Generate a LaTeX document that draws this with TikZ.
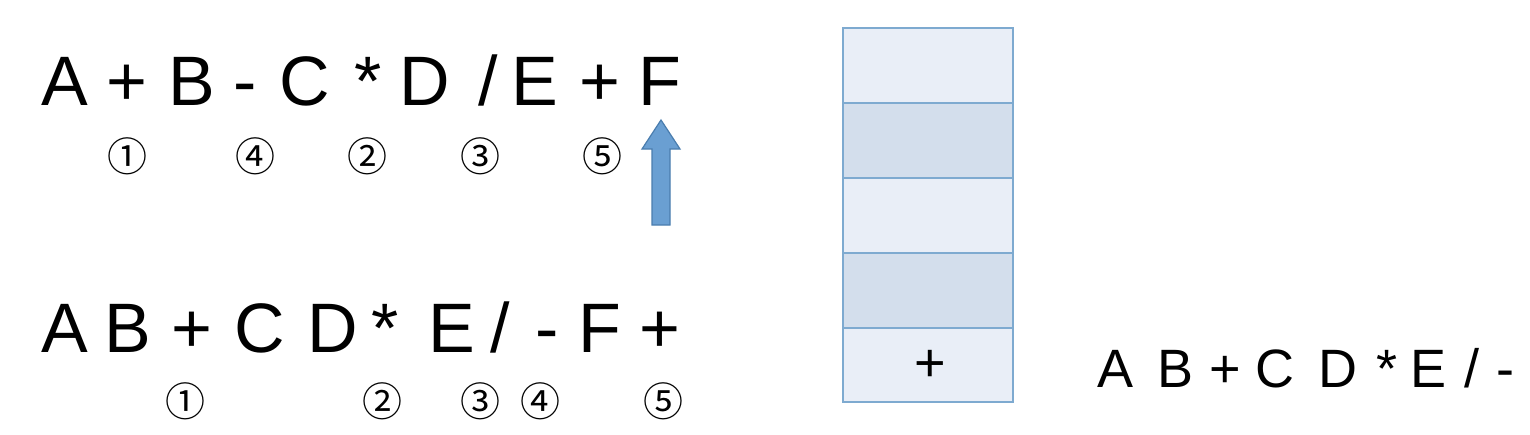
\documentclass[tikz,border=0pt]{standalone}
\usepackage{fontspec}
\setmainfont{Liberation Sans}
\newfontfamily\circfont{Noto Sans CJK JP}
\usepackage{xcolor}
\definecolor{cellpale}{HTML}{E9EEF7}
\definecolor{celldark}{HTML}{D3DEEC}
\definecolor{celledge}{HTML}{7EAAD0}
\definecolor{arrowfill}{HTML}{6A9FD2}
\definecolor{arrowedge}{HTML}{4A7DAE}

\tikzset{
  big/.style={anchor=base,inner sep=0,font=\fontsize{35}{40}\selectfont},
  mid/.style={anchor=base,inner sep=0,font=\fontsize{27}{32}\selectfont},
  circ/.style={inner sep=0,font=\circfont\fontsize{20}{22}\selectfont},
  cell/.style={draw=celledge,line width=0.8pt}
}

\begin{document}
\begin{tikzpicture}[x=0.5pt,y=-0.5pt]
\useasboundingbox (0,0) rectangle (1530,434);
% infix expression
\node[big] (ta) at (65,105) {A};
\node[big] (tp1) at (127,105) {+};
\node[big] (tb) at (192,105) {B};
\node[big] (tm) at (245,105) {-};
\node[big] (tc) at (305,105) {C};
\node[big] (tt) at (368,105) {*};
\node[big] (td) at (425,105) {D};
\node[big] (ts) at (488,105) {/};
\node[big] (te) at (535,105) {E};
\node[big] (tp2) at (600,105) {+};
\node[big] (tf) at (660,105) {F};
\node[circ] (tn1) at (127,156) {①};
\node[circ] (tn4) at (255,156) {④};
\node[circ] (tn2) at (367,156) {②};
\node[circ] (tn3) at (480,156) {③};
\node[circ] (tn5) at (602,156) {⑤};
% scan pointer
\filldraw[fill=arrowfill,draw=arrowedge,line width=0.6pt]
  (661,120) -- (680,149) -- (670,149) -- (670,225) -- (652,225) -- (652,149) -- (642,149) -- cycle;
% postfix expression
\node[big] (ba) at (65,352) {A};
\node[big] (bb) at (128,352) {B};
\node[big] (bp1) at (192,352) {+};
\node[big] (bc) at (260,352) {C};
\node[big] (bd) at (333,352) {D};
\node[big] (bt) at (385,352) {*};
\node[big] (be) at (452,352) {E};
\node[big] (bs) at (500,352) {/};
\node[big] (bm) at (547,352) {-};
\node[big] (bf) at (600,352) {F};
\node[big] (bp2) at (660,352) {+};
\node[circ] (bn1) at (185,401) {①};
\node[circ] (bn2) at (382,401) {②};
\node[circ] (bn3) at (480,401) {③};
\node[circ] (bn4) at (540,401) {④};
\node[circ] (bn5) at (663,401) {⑤};
% stack
\filldraw[cell,fill=cellpale] (843,28) rectangle (1013,103);
\filldraw[cell,fill=celldark] (843,103) rectangle (1013,178);
\filldraw[cell,fill=cellpale] (843,178) rectangle (1013,253);
\filldraw[cell,fill=celldark] (843,253) rectangle (1013,328);
\filldraw[cell,fill=cellpale] (843,328) rectangle (1013,402);
\node[mid] (sp) at (930,381) {+};
% output so far
\node[mid] (oa) at (1115,387) {A};
\node[mid] (ob) at (1175,387) {B};
\node[mid] (op) at (1225,387) {+};
\node[mid] (oc) at (1275,387) {C};
\node[mid] (od) at (1338,387) {D};
\node[mid] (ot) at (1387,387) {*};
\node[mid] (oe) at (1428,387) {E};
\node[mid] (os) at (1472,387) {/};
\node[mid] (om) at (1505,387) {-};
\end{tikzpicture}
\end{document}
